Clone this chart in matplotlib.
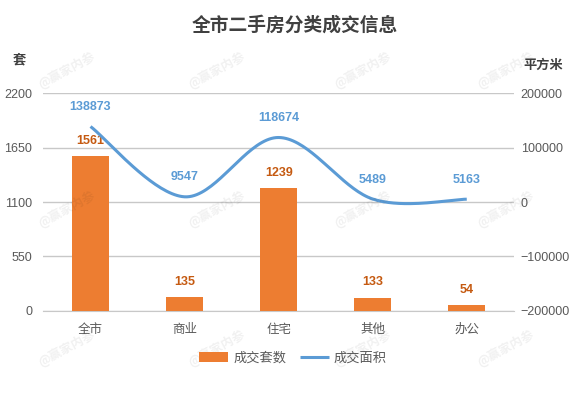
import matplotlib
matplotlib.use('Agg')
import matplotlib.pyplot as plt
import numpy as np

plt.rcParams['font.family'] = ['Noto Sans CJK SC', 'DejaVu Sans']
NUM_FONT = ['Liberation Sans', 'DejaVu Sans']

categories = ['全市', '商业', '住宅', '其他', '办公']
deal_units = [1561, 135, 1239, 133, 54]          # 成交套数 (left axis, 套)
deal_area = [138873, 9547, 118674, 5489, 5163]   # 成交面积 (right axis, 平方米)

left_ticks = [0, 550, 1100, 1650, 2200]
right_ticks = [-200000, -100000, 0, 100000, 200000]

BAR_COLOR = '#ED7D31'
LINE_COLOR = '#5B9BD5'
TICK_COLOR = '#595959'
GRID_COLOR = '#C8C8C8'


# excel style smoothed line (bezier through the points)
def smooth_curve(xs, ys, steps=40):
    pts = np.column_stack([xs, ys]).astype(float)
    n = len(pts)
    out = []
    for i in range(n - 1):
        p0 = pts[max(i - 1, 0)]
        p1 = pts[i]
        p2 = pts[i + 1]
        p3 = pts[min(i + 2, n - 1)]
        c1 = p1 + (p2 - p0) / 6.0
        c2 = p2 - (p3 - p1) / 6.0
        t = np.linspace(0, 1, steps)[:, None]
        seg = ((1 - t) ** 3) * p1 + 3 * ((1 - t) ** 2) * t * c1 + 3 * (1 - t) * t ** 2 * c2 + t ** 3 * p2
        out.append(seg if i == 0 else seg[1:])
    curve = np.vstack(out)
    return curve[:, 0], curve[:, 1]


fig = plt.figure(figsize=(5.76, 3.93), dpi=100)
ax = fig.add_axes([0.0755, 0.2094, 0.8165, 0.5532])
ax2 = ax.twinx()

x = np.arange(len(categories))

# BARS
ax.bar(x, deal_units, width=0.39, color=BAR_COLOR, zorder=3, label='成交套数')
for xi, v in zip(x, deal_units):
    ax.annotate(str(v), (xi, v), xytext=(0, 11), textcoords='offset points',
                ha='center', va='center', fontsize=9, fontweight='bold',
                color='#C55A11', family=NUM_FONT)

# SMOOTH LINE
cx, cy = smooth_curve(x, deal_area)
ax2.plot(cx, cy, color=LINE_COLOR, lw=2.2, solid_capstyle='butt', zorder=4, label='成交面积')
for xi, v in zip(x, deal_area):
    ax2.annotate(str(v), (xi, v), xytext=(0, 14), textcoords='offset points',
                 ha='center', va='center', fontsize=9, fontweight='bold',
                 color=LINE_COLOR, family=NUM_FONT)

# AXES
ax.set_xlim(-0.5, len(categories) - 0.5)
ax.set_ylim(0, 2200)
ax.set_yticks(left_ticks)
ax2.set_ylim(-200000, 200000)
ax2.set_yticks(right_ticks)
ax.set_xticks(x)
ax.set_xticklabels(categories)

ax.yaxis.grid(True, color=GRID_COLOR, lw=1, zorder=0)
ax.set_axisbelow(True)
for a in (ax, ax2):
    for s in a.spines.values():
        s.set_visible(False)
ax.spines['bottom'].set_visible(True)
ax.spines['bottom'].set_color(GRID_COLOR)

ax.tick_params(axis='x', length=0, pad=9, labelsize=9, labelcolor=TICK_COLOR)
ax.tick_params(axis='y', length=0, pad=8, labelsize=9, labelcolor=TICK_COLOR)
ax2.tick_params(axis='y', length=0, pad=5, labelsize=9, labelcolor=TICK_COLOR)
for lbl in ax.get_yticklabels() + ax2.get_yticklabels():
    lbl.set_family(NUM_FONT)

# TITLES
fig.text(295 / 576, 1 - 25 / 393, '全市二手房分类成交信息', ha='center', va='center',
         fontsize=13.5, fontweight='bold', color='#404040')
fig.text(19 / 576, 1 - 59 / 393, '套', ha='center', va='center',
         fontsize=9.5, fontweight='bold', color='#404040')
fig.text(543 / 576, 1 - 65 / 393, '平方米', ha='center', va='center',
         fontsize=9.5, fontweight='bold', color='#404040')

# LEGEND
h1, l1 = ax.get_legend_handles_labels()
h2, l2 = ax2.get_legend_handles_labels()
fig.legend(h1 + h2, l1 + l2, loc='center', bbox_to_anchor=(293 / 576, 1 - 358 / 393),
           ncol=2, frameon=False, fontsize=9.5, labelcolor=TICK_COLOR,
           handlelength=2.2, handletextpad=0.4, columnspacing=1.0)

# WATERMARKS
for wy in (70, 209, 348):
    for wx in (67, 217, 363, 506):
        fig.text(wx / 576, 1 - wy / 393, '@赢家内参', ha='center', va='center', rotation=28,
                 fontsize=9, fontweight='bold', color='#000000', alpha=0.06)

fig.savefig('out.png', dpi=100)
